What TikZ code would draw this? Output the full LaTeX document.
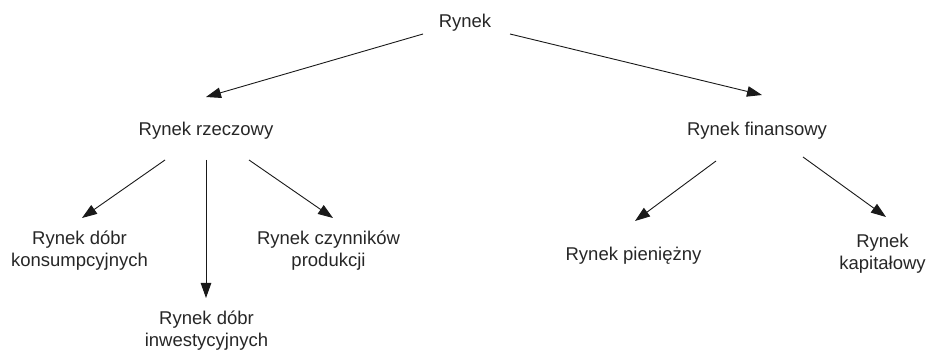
\documentclass[tikz,border=0pt]{standalone}
\usepackage{fontspec}
\setmainfont{Liberation Sans}
\usetikzlibrary{arrows.meta}
\begin{document}
\begin{tikzpicture}[x=1pt,y=-1pt,
  lbl/.style={inner sep=0pt, anchor=base, align=center, text=black!85,
    font=\fontsize{18.5}{22}\selectfont},
  arr/.style={line width=0.9pt, draw=black!90, -{Triangle[length=15pt,width=10.5pt]}}]
\useasboundingbox (0,0) rectangle (928,352);
\node[lbl] (r)  at (465,28)    {Rynek};
\node[lbl] (rz) at (206,136)   {Rynek rzeczowy};
\node[lbl] (rf) at (757,136)   {Rynek finansowy};
\node[lbl] (dk) at (79.5,267)  {Rynek dóbr\\konsumpcyjnych};
\node[lbl] (di) at (206.5,346.5) {Rynek dóbr\\inwestycyjnych};
\node[lbl] (cp) at (328.5,267) {Rynek czynników\\produkcji};
\node[lbl] (pn) at (633.5,261) {Rynek pieniężny};
\node[lbl] (kp) at (882.5,270) {Rynek\\kapitałowy};
\draw[arr] ([shift={(-42,6)}]r.base) -- ([shift={(0,-39)}]rz.base);
\draw[arr] ([shift={(45,6)}]r.base) -- ([shift={(5,-41)}]rf.base);
\draw[arr] ([shift={(-41,24)}]rz.base) -- ([shift={(2.5,-49)}]dk.base);
\draw[arr] ([shift={(0,24)}]rz.base) -- ([shift={(-0.5,-48.5)}]di.base);
\draw[arr] ([shift={(43,24)}]rz.base) -- ([shift={(4.5,-49)}]cp.base);
\draw[arr] ([shift={(-41,25)}]rf.base) -- ([shift={(1.5,-40)}]pn.base);
\draw[arr] ([shift={(46,21)}]rf.base) -- ([shift={(3.5,-53)}]kp.base);
\end{tikzpicture}
\end{document}
